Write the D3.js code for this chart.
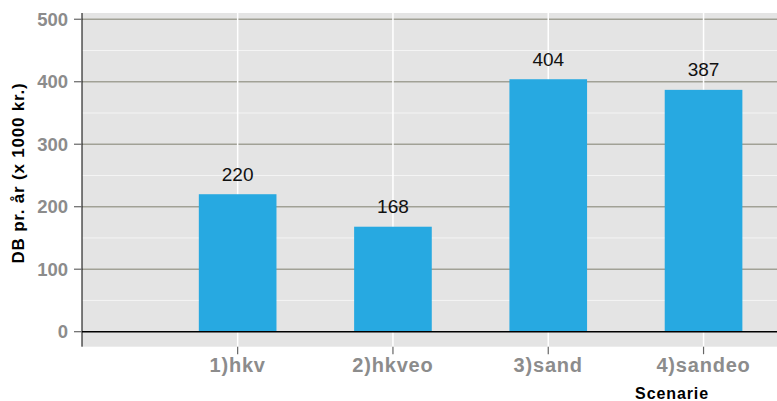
<!DOCTYPE html>
<html>
<head>
<meta charset="utf-8">
<script src="https://cdn.jsdelivr.net/npm/d3@7"></script>
<style>
  body { margin: 0; background: #fff; }
  text { font-family: "Liberation Sans", Arial, sans-serif; }
</style>
</head>
<body>
<div id="chart"></div>
<script>
//Data
const scenarios = ['1)hkv', '2)hkveo', '3)sand', '4)sandeo'];
const dbValues = [220, 168, 404, 387];
const majorTicks = [0, 100, 200, 300, 400, 500];
const minorTicks = [50, 150, 250, 350, 450];
const yTitle = 'DB pr. år (x 1000 kr.)';
const xTitle = 'Scenarie';

//Layout
const W = 777, H = 401;
const panel = { left: 82, right: 777, top: 13, bottom: 346.7 };

const svg = d3.select('#chart').append('svg')
  .attr('width', W).attr('height', H);

const x = d3.scaleBand().domain(scenarios)
  .range([160, 781.2]).paddingInner(0.5).paddingOuter(0.25);
const y = d3.scaleLinear().domain([-24, 510]).range([panel.bottom, panel.top]);

// Panel background
svg.append('rect')
  .attr('x', panel.left).attr('y', panel.top)
  .attr('width', panel.right - panel.left).attr('height', panel.bottom - panel.top)
  .attr('fill', '#e4e4e4');

// Minor gridlines (white)
svg.append('g').selectAll('line').data(minorTicks).join('line')
  .attr('x1', panel.left).attr('x2', panel.right)
  .attr('y1', d => y(d)).attr('y2', d => y(d))
  .attr('stroke', '#f4f4f4').attr('stroke-width', 1);

// Major gridlines
svg.append('g').selectAll('line').data(majorTicks.filter(d => d !== 0)).join('line')
  .attr('x1', panel.left).attr('x2', panel.right)
  .attr('y1', d => y(d)).attr('y2', d => y(d))
  .attr('stroke', '#a1a196').attr('stroke-width', 1.6);

// Vertical gridlines at categories
svg.append('g').selectAll('line').data(scenarios).join('line')
  .attr('x1', d => x(d) + x.bandwidth() / 2).attr('x2', d => x(d) + x.bandwidth() / 2)
  .attr('y1', panel.top).attr('y2', panel.bottom)
  .attr('stroke', '#ffffff').attr('stroke-width', 1.5);

// Bars
svg.append('g').selectAll('rect').data(dbValues).join('rect')
  .attr('x', (d, i) => x(scenarios[i]))
  .attr('y', d => y(d))
  .attr('width', x.bandwidth())
  .attr('height', d => y(0) - y(d))
  .attr('fill', '#27a9e1');

// Zero line
svg.append('line')
  .attr('x1', panel.left).attr('x2', panel.right)
  .attr('y1', y(0)).attr('y2', y(0))
  .attr('stroke', '#000').attr('stroke-width', 1.6);

// Value labels
svg.append('g').selectAll('text').data(dbValues).join('text')
  .attr('x', (d, i) => x(scenarios[i]) + x.bandwidth() / 2)
  .attr('y', d => y(d) - 13.5)
  .attr('text-anchor', 'middle')
  .attr('font-size', 19)
  .attr('fill', '#111')
  .text(d => d);

// Y axis line
svg.append('line')
  .attr('x1', panel.left).attr('x2', panel.left)
  .attr('y1', panel.top).attr('y2', panel.bottom)
  .attr('stroke', '#000').attr('stroke-width', 1);

// Y ticks + labels
const yAxis = svg.append('g');
majorTicks.forEach(t => {
  yAxis.append('line')
    .attr('x1', panel.left - 8).attr('x2', panel.left)
    .attr('y1', y(t)).attr('y2', y(t))
    .attr('stroke', '#666').attr('stroke-width', 1.2);
  yAxis.append('text')
    .attr('x', 68).attr('y', y(t) + 6.5)
    .attr('text-anchor', 'end')
    .attr('font-size', 18.5).attr('font-weight', 700)
    .attr('fill', '#8c8c8c')
    .text(t);
});

// X ticks + labels
const xAxis = svg.append('g');
scenarios.forEach(s => {
  const cx = x(s) + x.bandwidth() / 2;
  xAxis.append('line')
    .attr('x1', cx).attr('x2', cx)
    .attr('y1', panel.bottom).attr('y2', panel.bottom + 7.5)
    .attr('stroke', '#666').attr('stroke-width', 1.2);
  xAxis.append('text')
    .attr('x', cx).attr('y', 372)
    .attr('text-anchor', 'middle')
    .attr('font-size', 20).attr('font-weight', 700)
    .attr('letter-spacing', 0.8)
    .attr('fill', '#8c8c8c')
    .text(s);
});

// Axis titles
svg.append('text')
  .attr('transform', 'translate(23.5,173) rotate(-90)')
  .attr('text-anchor', 'middle')
  .attr('font-size', 17).attr('font-weight', 700)
  .attr('letter-spacing', 0.8)
  .attr('fill', '#000')
  .text(yTitle);

svg.append('text')
  .attr('x', 709).attr('y', 398.5)
  .attr('text-anchor', 'end')
  .attr('font-size', 16).attr('font-weight', 700)
  .attr('letter-spacing', 0.9)
  .attr('fill', '#000')
  .text(xTitle);
</script>
</body>
</html>
